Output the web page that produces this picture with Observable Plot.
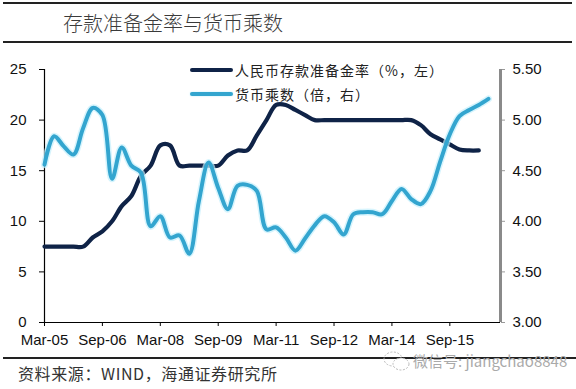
<!DOCTYPE html>
<html>
<head>
<meta charset="utf-8">
<script src="https://cdn.jsdelivr.net/npm/d3@7"></script>
<script src="https://cdn.jsdelivr.net/npm/@observablehq/plot@0.6"></script>
<style>
  html, body { margin: 0; padding: 0; background: #fff; }
  #wrap { position: relative; width: 576px; height: 389px; overflow: hidden; font-family: "Noto Sans CJK SC", sans-serif; }
  #wrap svg.plot { position: absolute; left: 0; top: 0; }
  .abs { position: absolute; white-space: nowrap; }
  .rule { position: absolute; height: 1.5px; background: #222; }
  .sw { position: absolute; width: 43px; height: 4px; border-radius: 2px; }
  .lg { position: absolute; font-size: 14px; line-height: 20px; color: #222; white-space: nowrap; letter-spacing: 1px; }
</style>
</head>
<body>
<div id="wrap"></div>
<script>
// ---- data ----
const quarters = [
  "Mar-05","Jun-05","Sep-05","Dec-05",
  "Mar-06","Jun-06","Sep-06","Dec-06",
  "Mar-07","Jun-07","Sep-07","Dec-07",
  "Mar-08","Jun-08","Sep-08","Dec-08",
  "Mar-09","Jun-09","Sep-09","Dec-09",
  "Mar-10","Jun-10","Sep-10","Dec-10",
  "Mar-11","Jun-11","Sep-11","Dec-11",
  "Mar-12","Jun-12","Sep-12","Dec-12",
  "Mar-13","Jun-13","Sep-13","Dec-13",
  "Mar-14","Jun-14","Sep-14","Dec-14",
  "Mar-15","Jun-15","Sep-15","Dec-15",
  "Mar-16","Jun-16","Sep-16"
];
// 人民币存款准备金率 (%, left axis)
const rrr = [
  7.5, 7.5, 7.5, 7.5,
  7.5, 8.4, 9.0, 10.0,
  11.5, 12.5, 14.5, 15.5,
  17.5, 17.5, 15.5, 15.5,
  15.5, 15.5, 15.5, 16.5,
  17.0, 17.0, 18.5, 20.0,
  21.5, 21.5, 21.0, 20.5,
  20.0, 20.0, 20.0, 20.0,
  20.0, 20.0, 20.0, 20.0,
  20.0, 20.0, 20.0, 19.5,
  18.6, 18.1, 17.6, 17.1,
  17.0, 17.0
];
// 货币乘数 (倍, right axis)
const multiplier = [
  4.56, 4.84, 4.74, 4.66,
  4.92, 5.12, 5.05, 4.42,
  4.73, 4.55, 4.48, 3.95,
  4.05, 3.84, 3.86, 3.68,
  4.20, 4.58, 4.33, 4.12,
  4.35, 4.36, 4.30, 3.92,
  3.94, 3.84, 3.71, 3.83,
  3.96, 4.05, 3.99, 3.87,
  4.07, 4.09, 4.09, 4.07,
  4.20, 4.32, 4.22, 4.17,
  4.30, 4.59, 4.86, 5.04,
  5.10, 5.15, 5.21
];
const tickLabels = ["Mar-05","Sep-06","Mar-08","Sep-09","Mar-11","Sep-12","Mar-14","Sep-15"];
const leftTicks = [0, 5, 10, 15, 20, 25];
const rightTicks = [3.0, 3.5, 4.0, 4.5, 5.0, 5.5];
const rightMin = 3.0, rightMax = 5.5;
const leftMax = 25;

const seriesNames = ["人民币存款准备金率（%，左）", "货币乘数（倍，右）"];
const colors = ["#0f2347", "#33a5cf"];

// ---- derived tables ----
const toLeft = v => (v - rightMin) / (rightMax - rightMin) * leftMax;
const rrrData = rrr.map((v, i) => ({i, v}));
const mulData = multiplier.map((v, i) => ({i, v: toLeft(v)}));
const xTicks = tickLabels.map(l => quarters.indexOf(l));
const xMax = 47.25;

const font = '"Liberation Sans", Arial, sans-serif';

const chart = Plot.plot({
  width: 576,
  height: 389,
  marginLeft: 44,
  marginRight: 76,
  marginTop: 69,
  marginBottom: 67,
  style: {fontFamily: font, fontSize: "15px", color: "#111", background: "transparent"},
  x: {type: "linear", domain: [0, xMax]},
  y: {domain: [0, leftMax]},
  marks: [
    Plot.axisY(leftTicks, {anchor: "left", label: null, tickSize: 5, tickPadding: 13, fontSize: 15, stroke: "#000"}),
    Plot.axisY(rightTicks.map(toLeft), {anchor: "right", label: null, tickSize: 4, tickPadding: 8, fontSize: 15,
      stroke: "#999", fill: "#111", tickFormat: d => (rightMin + d / leftMax * (rightMax - rightMin)).toFixed(2)}),
    Plot.axisX(xTicks, {anchor: "bottom", label: null, tickSize: 4, tickPadding: 8, fontSize: 15, stroke: "#000",
      tickFormat: i => quarters[i]}),
    Plot.ruleX([0], {y1: 0, y2: leftMax, stroke: "#000", strokeWidth: 1.2}),
    Plot.ruleY([0], {x1: 0, x2: xMax, stroke: "#000", strokeWidth: 1.2}),
    Plot.ruleX([xMax], {y1: 0, y2: leftMax, stroke: "#8a8a8a", strokeWidth: 3}),
    Plot.lineY(rrrData, {x: "i", y: "v", stroke: colors[0], strokeWidth: 4.2, curve: "catmull-rom", strokeLinecap: "round", strokeLinejoin: "round"}),
    Plot.lineY(mulData, {x: "i", y: "v", stroke: "#c4f0fc", strokeWidth: 7, strokeOpacity: 0.7, curve: "catmull-rom", strokeLinecap: "round", strokeLinejoin: "round"}),
    Plot.lineY(mulData, {x: "i", y: "v", stroke: colors[1], strokeWidth: 4, curve: "catmull-rom", strokeLinecap: "round", strokeLinejoin: "round"})
  ]
});
chart.classList.add("plot");

const wrap = document.getElementById("wrap");
wrap.appendChild(chart);

function add(html) { wrap.insertAdjacentHTML("beforeend", html); }

// header / footer rules and texts
add('<div class="rule" style="left:3px;width:569px;top:2px;"></div>');
add('<div class="abs" style="left:63px;top:9px;font-size:20px;line-height:28px;color:#3a3a3a;font-weight:300;">存款准备金率与货币乘数</div>');
add('<div class="rule" style="left:3px;width:569px;top:41px;"></div>');

// legend
add(`<div class="sw" style="left:190px;top:68px;background:${colors[0]};"></div>`);
add(`<div class="lg" style="left:235px;top:60px;">${seriesNames[0]}</div>`);
add(`<div class="sw" style="left:190px;top:92px;background:${colors[1]};box-shadow:0 0 2px #b8ecfb;"></div>`);
add(`<div class="lg" style="left:235px;top:84px;">${seriesNames[1]}</div>`);

// footer
add('<div class="rule" style="left:3px;width:573px;top:357px;"></div>');
add('<div class="abs" style="left:18px;top:362px;font-size:16px;line-height:22px;color:#333;letter-spacing:0.6px;">资料来源：WIND，海通证券研究所</div>');

// watermark
add('<svg class="abs" style="left:382px;top:350px;" width="30" height="22"><ellipse cx="11" cy="9" rx="9" ry="7" fill="none" stroke="#bbb" stroke-width="1" stroke-dasharray="2 1.5"/><ellipse cx="19" cy="14" rx="8" ry="6" fill="#fff" stroke="#bbb" stroke-width="1" stroke-dasharray="2 1.5"/></svg>');
add('<div class="abs" style="left:413px;top:351px;font-size:15px;line-height:20px;color:#aaa;">微信号: jiangchao8848</div>');
</script>
</body>
</html>
